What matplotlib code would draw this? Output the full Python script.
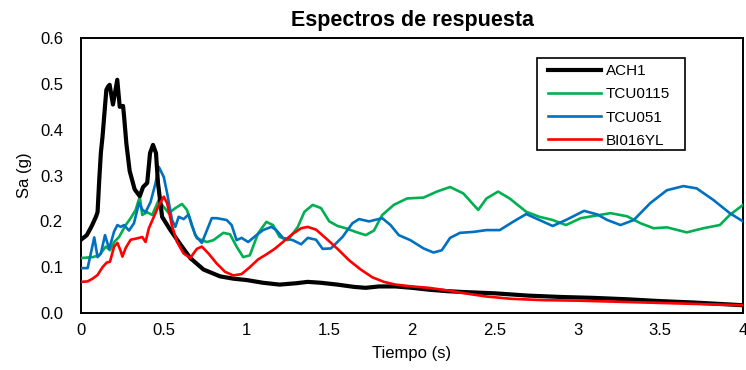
import matplotlib
matplotlib.use("Agg")
import matplotlib.pyplot as plt
from matplotlib.patches import Rectangle
from matplotlib.ticker import FixedLocator, FuncFormatter

plt.rcParams['font.family'] = ['Liberation Sans', 'DejaVu Sans']

# Periods (s) and spectral accelerations (g) for each record
t_ach1 = [0, 0.035, 0.065, 0.09, 0.1, 0.11, 0.12, 0.13, 0.153, 0.165, 0.173, 0.193, 0.219,
          0.234, 0.254, 0.26, 0.274, 0.294, 0.324, 0.355, 0.375, 0.40, 0.417, 0.435, 0.453,
          0.465, 0.49, 0.54, 0.6, 0.66, 0.74, 0.84, 0.92, 1.0, 1.1, 1.2, 1.3, 1.37, 1.45,
          1.55, 1.65, 1.72, 1.8, 1.9, 2.0, 2.1, 2.2, 2.3, 2.5, 2.7, 2.9, 3.1, 3.3, 3.5,
          3.7, 3.9, 4.0]
sa_ach1 = [0.16, 0.17, 0.19, 0.21, 0.22, 0.29, 0.35, 0.385, 0.487, 0.495, 0.498, 0.455, 0.509,
           0.45, 0.452, 0.43, 0.37, 0.31, 0.27, 0.255, 0.275, 0.284, 0.349, 0.367, 0.349,
           0.284, 0.21, 0.181, 0.15, 0.12, 0.095, 0.08, 0.075, 0.072, 0.066, 0.062, 0.065,
           0.068, 0.066, 0.062, 0.057, 0.055, 0.058, 0.058, 0.055, 0.051, 0.048, 0.046,
           0.043, 0.038, 0.035, 0.033, 0.03, 0.026, 0.023, 0.019, 0.017]

t_tcu0115 = [0, 0.07, 0.11, 0.15, 0.175, 0.2, 0.23, 0.27, 0.3, 0.33, 0.355, 0.37, 0.4, 0.43,
             0.47, 0.49, 0.53, 0.57, 0.61, 0.64, 0.67, 0.7, 0.76, 0.8, 0.86, 0.9, 0.94, 0.98,
             1.02, 1.07, 1.12, 1.16, 1.2, 1.25, 1.31, 1.35, 1.4, 1.45, 1.5, 1.55, 1.6, 1.66,
             1.72, 1.77, 1.82, 1.89, 1.97, 2.07, 2.15, 2.23, 2.31, 2.40, 2.45, 2.52, 2.59,
             2.69, 2.77, 2.85, 2.93, 3.02, 3.1, 3.2, 3.3, 3.38, 3.46, 3.54, 3.66, 3.76, 3.86,
             3.92, 4.0]
sa_tcu0115 = [0.12, 0.122, 0.126, 0.145, 0.137, 0.155, 0.166, 0.192, 0.207, 0.225, 0.254,
              0.214, 0.22, 0.214, 0.247, 0.236, 0.218, 0.229, 0.238, 0.225, 0.19, 0.163,
              0.155, 0.159, 0.175, 0.172, 0.145, 0.122, 0.126, 0.174, 0.199, 0.192, 0.166,
              0.159, 0.188, 0.221, 0.236, 0.229, 0.2, 0.19, 0.185, 0.177, 0.17, 0.18, 0.214,
              0.236, 0.25, 0.252, 0.265, 0.275, 0.261, 0.225, 0.25, 0.265, 0.25, 0.221, 0.21,
              0.203, 0.192, 0.207, 0.212, 0.218, 0.211, 0.196, 0.185, 0.187, 0.176, 0.185,
              0.192, 0.214, 0.236]

t_tcu051 = [0, 0.04, 0.08, 0.1, 0.12, 0.145, 0.17, 0.2, 0.22, 0.24, 0.26, 0.29, 0.32, 0.35,
            0.37, 0.39, 0.42, 0.45, 0.47, 0.5, 0.52, 0.55, 0.57, 0.59, 0.62, 0.65, 0.69,
            0.73, 0.76, 0.79, 0.82, 0.88, 0.91, 0.94, 0.97, 1.01, 1.06, 1.1, 1.15, 1.18,
            1.22, 1.28, 1.33, 1.37, 1.42, 1.46, 1.51, 1.58, 1.64, 1.68, 1.74, 1.82, 1.87,
            1.92, 1.99, 2.07, 2.13, 2.18, 2.23, 2.29, 2.37, 2.45, 2.53, 2.61, 2.69, 2.77,
            2.85, 2.93, 3.04, 3.12, 3.18, 3.26, 3.34, 3.44, 3.54, 3.64, 3.72, 3.82, 3.92, 4.0]
sa_tcu051 = [0.098, 0.098, 0.165, 0.122, 0.13, 0.17, 0.14, 0.178, 0.192, 0.188, 0.192, 0.18,
             0.196, 0.24, 0.226, 0.22, 0.242, 0.283, 0.319, 0.297, 0.262, 0.203, 0.188, 0.21,
             0.205, 0.215, 0.17, 0.153, 0.18, 0.207, 0.207, 0.203, 0.192, 0.159, 0.164,
             0.155, 0.17, 0.181, 0.188, 0.181, 0.164, 0.159, 0.15, 0.164, 0.16, 0.14, 0.141,
             0.166, 0.196, 0.205, 0.2, 0.207, 0.192, 0.17, 0.159, 0.141, 0.132, 0.137, 0.164,
             0.175, 0.177, 0.181, 0.181, 0.199, 0.216, 0.203, 0.19, 0.203, 0.223, 0.215,
             0.203, 0.192, 0.203, 0.24, 0.268, 0.277, 0.272, 0.247, 0.218, 0.2]

t_bi016yl = [0, 0.04, 0.07, 0.1, 0.13, 0.155, 0.175, 0.2, 0.22, 0.24, 0.25, 0.27, 0.3, 0.34,
             0.37, 0.39, 0.41, 0.44, 0.47, 0.5, 0.52, 0.55, 0.58, 0.62, 0.66, 0.7, 0.73,
             0.77, 0.82, 0.87, 0.92, 0.97, 1.02, 1.07, 1.12, 1.17, 1.22, 1.28, 1.33, 1.37,
             1.42, 1.48, 1.55, 1.62, 1.69, 1.76, 1.83, 1.9, 2.0, 2.1, 2.2, 2.3, 2.45, 2.6,
             2.8, 3.0, 3.2, 3.4, 3.6, 3.8, 4.0]
sa_bi016yl = [0.068, 0.069, 0.075, 0.083, 0.1, 0.11, 0.112, 0.145, 0.153, 0.135, 0.123, 0.142,
              0.16, 0.163, 0.166, 0.155, 0.185, 0.21, 0.235, 0.254, 0.24, 0.19, 0.155, 0.13,
              0.12, 0.14, 0.145, 0.13, 0.108, 0.09, 0.082, 0.085, 0.1, 0.117, 0.128, 0.14,
              0.155, 0.173, 0.185, 0.188, 0.182, 0.163, 0.14, 0.115, 0.095, 0.078, 0.068,
              0.062, 0.058, 0.055, 0.05, 0.044, 0.036, 0.031, 0.028, 0.027, 0.025, 0.023,
              0.021, 0.019, 0.017]

series_names = ["ACH1", "TCU0115", "TCU051", "BI016YL"]
x_ticks = [0, 0.5, 1, 1.5, 2, 2.5, 3, 3.5, 4]
y_ticks = [0.0, 0.1, 0.2, 0.3, 0.4, 0.5, 0.6]

fig = plt.figure(figsize=(7.46, 3.70), dpi=100)
ax = fig.add_axes([0.1086, 0.154, 0.8874, 0.743])

ax.plot(t_ach1, sa_ach1, color="#000000", lw=3.0, label=series_names[0], zorder=5)
ax.plot(t_tcu0115, sa_tcu0115, color="#00B050", lw=1.9, label=series_names[1], zorder=3)
ax.plot(t_tcu051, sa_tcu051, color="#0070C0", lw=1.9, label=series_names[2], zorder=4)
ax.plot(t_bi016yl, sa_bi016yl, color="#FF0000", lw=1.9, label=series_names[3], zorder=6)

ax.set_xlim(0, 4)
ax.set_ylim(0, 0.6)
ax.xaxis.set_major_locator(FixedLocator(x_ticks))
ax.yaxis.set_major_locator(FixedLocator(y_ticks))
ax.xaxis.set_major_formatter(FuncFormatter(lambda v, p: f"{v:g}"))
ax.yaxis.set_major_formatter(FuncFormatter(lambda v, p: f"{v:.1f}"))
ax.tick_params(axis="both", length=0, labelsize=12)
ax.tick_params(axis="y", pad=13)
ax.tick_params(axis="x", pad=7)

for s in ax.spines.values():
    s.set_linewidth(1.4)
    s.set_color("#000000")

ax.set_title("Espectros de respuesta", fontsize=15.5, fontweight="bold", pad=9)
ax.set_xlabel("Tiempo (s)", fontsize=12, labelpad=6)
ax.set_ylabel("Sa (g)", fontsize=12, labelpad=6)

# legend box drawn separately so its padding can differ horizontally/vertically
box = Rectangle((0.689, 0.593), 0.223, 0.334, transform=ax.transAxes,
                facecolor="white", edgecolor="black", lw=1.2, zorder=9)
ax.add_patch(box)
leg = ax.legend(loc="upper left", bbox_to_anchor=(0.7054, 0.905), fontsize=11,
                frameon=False, handlelength=3.45, handletextpad=0.35,
                labelspacing=0.6, borderpad=0, borderaxespad=0)
leg.set_zorder(10)

fig.savefig("out.png", dpi=100)
